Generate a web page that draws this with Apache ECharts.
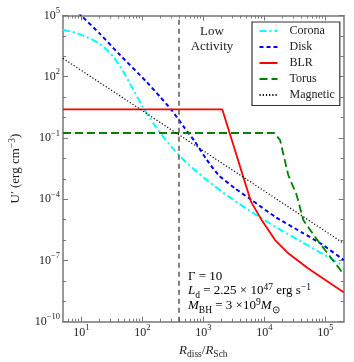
<!DOCTYPE html>
<html>
<head>
<meta charset="utf-8">
<script src="https://cdn.jsdelivr.net/npm/echarts@6/dist/echarts.min.js"></script>
<style>
html,body{margin:0;padding:0;background:#fff;}
#chart{width:354px;height:362px;}
</style>
</head>
<body>
<div id="chart"></div>
<script>
// ---- data (R_diss / R_Sch , U' in erg cm^-3) ----
const coronaR = [5, 6.5, 8.4, 11.5, 15.7, 22.9, 33.4, 48.8, 71, 103.5, 151, 220, 343, 469, 644, 1205, 2565, 5460, 15000, 40900, 87000, 200000];
const coronaU = [1.95e4, 1.7e4, 1.36e4, 9.6e3, 6.3e3, 2.96e3, 957, 178, 23.4, 3.0, 0.525, 0.115, 0.0234, 8.9e-3, 3.63e-3, 7.6e-4, 1.38e-4, 3.0e-5, 4.57e-6, 8.1e-7, 2.24e-7, 5.4e-8];

const diskR = [5, 10.1, 20.2, 40.4, 117.8, 194.5, 302.7, 469, 729, 1135, 1758, 3304, 6194, 15000, 40900, 87000, 200000];
const diskU = [6.9e5, 9.44e4, 1.26e4, 1413, 55, 10.5, 2.29, 0.38, 0.066, 8.7e-3, 1.58e-3, 3.39e-4, 9.1e-5, 1.39e-5, 2.4e-6, 6.3e-7, 1.05e-7];

const blrR = [5, 2040, 6040, 9040, 15000, 24700, 52500, 127000, 200000];
const blrU = [2.54, 2.54, 7.6e-5, 9.5e-6, 1.0e-6, 2.24e-7, 4.07e-8, 6.9e-9, 2.8e-9];

const torusR = [5, 14550, 18100, 24700, 33900, 43500, 67600, 98600, 200000];
const torusU = [0.175, 0.175, 0.0794, 1.51e-3, 1.58e-4, 9.55e-6, 1.45e-6, 3.24e-7, 2.14e-8];

const magR = [5, 200000];
const magU = [794, 6.9e-7];

const lowActivityR = 400;

const xTicks = [10, 100, 1000, 10000, 100000];
const yTicks = [1e-10, 1e-7, 1e-4, 1e-1, 1e2, 1e5];
const yMinorTicks = [1e4, 1e3, 1e1, 1e0, 1e-2, 1e-3, 1e-5, 1e-6, 1e-8, 1e-9];
const xMin = 5, xMax = 2e5, yMin = 1e-10, yMax = 1e5;

// ---- build ----
const F = 'Liberation Serif';
const TXT = '#222';
const AX = '#777';

const xMinorTicks = [];
for (let e = 0; e <= 5; e++) {
  for (let m = 2; m <= 9; m++) {
    const v = m * Math.pow(10, e);
    if (v > xMin && v < xMax) xMinorTicks.push(v);
  }
}

function pairs(xs, ys) { return xs.map((x, i) => [x, ys[i]]); }

const rich = {
  b: {fontFamily: F, fontSize: 12, color: TXT, lineHeight: 18},
  s: {fontFamily: F, fontSize: 8.5, color: TXT, lineHeight: 8, verticalAlign: 'top'},
  i: {fontFamily: F, fontSize: 13, color: TXT, fontStyle: 'italic', lineHeight: 18},
  n: {fontFamily: F, fontSize: 13, color: TXT, lineHeight: 18},
  sub: {fontFamily: F, fontSize: 9.5, color: TXT, lineHeight: 8, verticalAlign: 'bottom'},
  sup: {fontFamily: F, fontSize: 9.5, color: TXT, lineHeight: 8, verticalAlign: 'top'}
};

function expLabel(v) {
  const e = Math.round(Math.log10(v));
  return '{b|10}{s|' + (e < 0 ? '\u2212' + (-e) : e) + '}';
}

function xAxisDef(pos, ticks, len, labels, line) {
  return {
    type: 'log', logBase: 10, min: xMin, max: xMax, position: pos,
    axisLine: {show: line, onZero: false, lineStyle: {color: AX, width: 1.5}},
    axisTick: {show: true, inside: true, length: len, customValues: ticks, lineStyle: {color: AX, width: 1}},
    axisLabel: labels ? {show: true, customValues: ticks, margin: 2, formatter: expLabel, rich: rich} : {show: false},
    splitLine: {show: false}, minorTick: {show: false}
  };
}
function yAxisDef(pos, ticks, len, labels, line) {
  return {
    type: 'log', logBase: 10, min: yMin, max: yMax, position: pos,
    axisLine: {show: line, onZero: false, lineStyle: {color: AX, width: 1.5}},
    axisTick: {show: true, inside: true, length: len, customValues: ticks, lineStyle: {color: AX, width: 1}},
    axisLabel: labels ? {show: true, customValues: ticks, margin: 3, formatter: expLabel, rich: rich} : {show: false},
    splitLine: {show: false}, minorTick: {show: false}
  };
}

const xAxes = [
  xAxisDef('bottom', xTicks, 5, true, true),
  xAxisDef('bottom', xMinorTicks, 3, false, false),
  xAxisDef('top', xTicks, 5, false, true),
  xAxisDef('top', xMinorTicks, 3, false, false)
];
xAxes[0].name = '{i|R}{sub|diss}{n|/}{i|R}{sub|Sch}';
xAxes[0].nameLocation = 'middle';
xAxes[0].nameGap = 20;
xAxes[0].nameTextStyle = {rich: rich};

const yAxes = [
  yAxisDef('left', yTicks, 5, true, true),
  yAxisDef('left', yMinorTicks, 3, false, false),
  yAxisDef('right', yTicks, 5, false, true),
  yAxisDef('right', yMinorTicks, 3, false, false)
];
yAxes[0].name = '{n|U\u2032 (erg cm}{sup|\u22123}{n|)}';
yAxes[0].nameLocation = 'middle';
yAxes[0].nameGap = 38;
yAxes[0].nameRotate = 90;
yAxes[0].nameTextStyle = {rich: rich};

function lineSeries(name, xs, ys, color, width, type, smooth) {
  return {
    name: name, type: 'line', xAxisIndex: 0, yAxisIndex: 0,
    data: pairs(xs, ys), symbol: 'none', showSymbol: false,
    smooth: smooth,
    lineStyle: {color: color, width: width, type: type},
    itemStyle: {color: color}, clip: true, z: 3
  };
}

const series = [
  lineSeries('Corona', coronaR, coronaU, '#00FFFF', 2, [7, 3, 2, 3], 0.2),
  lineSeries('Disk', diskR, diskU, '#0000FF', 2, [4, 3], 0.2),
  lineSeries('BLR', blrR, blrU, '#FF0000', 1.8, 'solid', false),
  lineSeries('Torus', torusR, torusU, '#008000', 1.8, [8, 4], false),
  lineSeries('Magnetic', magR, magU, '#000000', 1.2, [1.2, 2], false)
];
series[2].markLine = {
  silent: true, symbol: ['none', 'none'], label: {show: false},
  lineStyle: {type: [5, 4], color: '#555', width: 1.5},
  data: [{xAxis: lowActivityR}], animation: false
};

const chart = echarts.init(document.getElementById('chart'), null, {renderer: 'canvas'});
chart.setOption({
  animation: false,
  backgroundColor: '#fff',
  grid: {left: 63, right: 10.3, top: 15.5, bottom: 40.3, containLabel: false, outerBoundsMode: 'none'},
  xAxis: xAxes,
  yAxis: yAxes,
  legend: {
    data: ['Corona', 'Disk', 'BLR', 'Torus', 'Magnetic'],
    orient: 'vertical', left: 252, top: 22,
    itemWidth: 18, itemHeight: 12, itemGap: 4,
    itemStyle: {opacity: 0},
    borderColor: '#333', borderWidth: 1.2, borderRadius: 0,
    padding: [3, 5, 4.5, 6.5], backgroundColor: '#fff',
    textStyle: {fontFamily: F, fontSize: 12, color: TXT, lineHeight: 12, padding: [0, 0, 0, 7]},
    selectedMode: false
  },
  graphic: [
    {type: 'text', x: 212, y: 39, style: {text: 'Low\nActivity', textAlign: 'center', textVerticalAlign: 'middle', font: '13px "Liberation Serif"', fill: TXT, lineHeight: 15}, z: 10},
    {type: 'text', x: 188, y: 277, style: {text: '{n|\u0393 = 10}', rich: rich, textVerticalAlign: 'middle'}, z: 10},
    {type: 'text', x: 188, y: 291, style: {text: '{i|L}{sub|d}{n| = 2.25 \u00d7 10}{sup|47}{n| erg s}{sup|\u22121}', rich: rich, textVerticalAlign: 'middle'}, z: 10},
    {type: 'text', x: 188, y: 306, style: {text: '{i|M}{sub|BH}{n| = 3 \u00d710}{sup|9}{i|M}{sub|\u2299}', rich: rich, textVerticalAlign: 'middle'}, z: 10}
  ],
  series: series
});
</script>
</body>
</html>
